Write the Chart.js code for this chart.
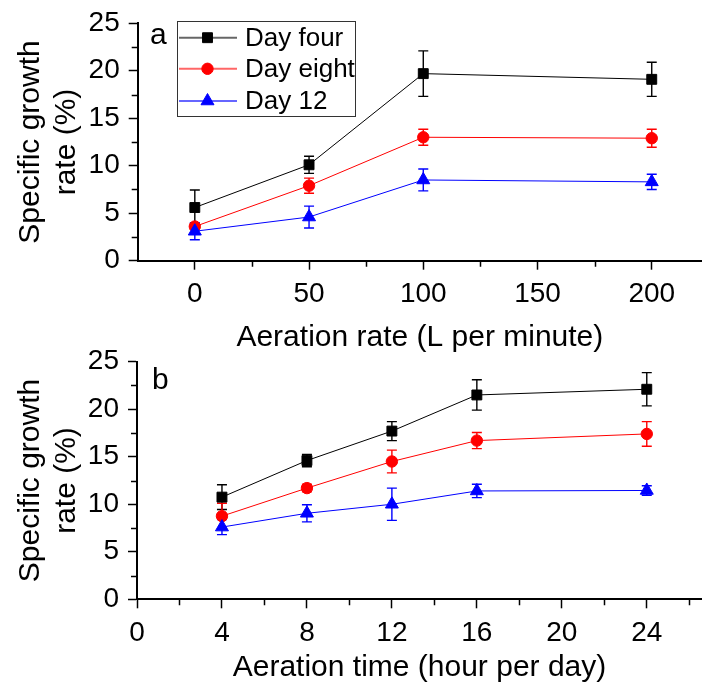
<!DOCTYPE html>
<html><head><meta charset="utf-8">
<script src="https://cdn.jsdelivr.net/npm/chart.js@4.4.1/dist/chart.umd.min.js"></script>
<style>
html,body{margin:0;padding:0;background:#fff;width:702px;height:687px;overflow:hidden;}
canvas{position:absolute;left:0;}
#ca{top:0;}
#cb{top:330px;}
</style></head><body>
<canvas id="ca" width="702" height="360"></canvas>
<canvas id="cb" width="702" height="357"></canvas>
<script>
const FONT = "'Liberation Sans', Arial, Helvetica, sans-serif";

const seriesNames = ['Day four', 'Day eight', 'Day 12'];
const seriesColors = ['#000000', '#ff0000', '#0000ff'];
const seriesMarkers = ['rect', 'circle', 'triangle'];
const seriesRadius = [7, 5.7, 7.5];

// Panel a: aeration rate
const aerationRate = [0, 50, 100, 200];
const rateDayFour = [5.6, 10.1, 19.7, 19.1];
const rateDayFourErr = [1.85, 0.9, 2.4, 1.8];
const rateDayEight = [3.6, 7.9, 13.0, 12.9];
const rateDayEightErr = [0.3, 0.8, 0.85, 0.95];
const rateDay12 = [3.1, 4.6, 8.5, 8.3];
const rateDay12Err = [0.9, 1.15, 1.15, 0.8];
const rateTicks = [0, 50, 100, 150, 200];
const rateMinorTicks = [25, 75, 125, 175];

// Panel b: aeration time
const aerationTime = [4, 8, 12, 16, 24];
const timeDayFour = [10.75, 14.6, 17.7, 21.5, 22.1];
const timeDayFourErr = [1.3, 0.65, 1.0, 1.6, 1.75];
const timeDayEight = [8.75, 11.7, 14.5, 16.7, 17.4];
const timeDayEightErr = [1.35, 0.4, 1.2, 0.85, 1.3];
const timeDay12 = [7.6, 9.05, 10.0, 11.4, 11.45];
const timeDay12Err = [0.8, 0.9, 1.7, 0.7, 0.5];
const timeTicks = [0, 4, 8, 12, 16, 20, 24];
const timeMinorTicks = [2, 6, 10, 14, 18, 22, 26];

const yTicks = [0, 5, 10, 15, 20, 25];
const yMinorTicks = [2.5, 7.5, 12.5, 17.5, 22.5];
const yTitle = ['Specific growth', 'rate (%)'];

function makeDataset(i, xs, ys, errs) {
  return {
    label: seriesNames[i],
    data: xs.map((x, k) => ({x: x, y: ys[k]})),
    errors: errs,
    borderColor: seriesColors[i],
    backgroundColor: seriesColors[i],
    borderWidth: 1,
    pointStyle: seriesMarkers[i],
    pointRadius: seriesRadius[i],
    pointBorderWidth: 1,
    pointBorderColor: seriesColors[i],
    pointBackgroundColor: seriesColors[i],
    pointHoverRadius: seriesRadius[i],
    order: 2 - i,
    tension: 0,
    fill: false,
    clip: false
  };
}

const errorBars = {
  id: 'errorBars',
  beforeDatasetsDraw(chart) {
    const ctx = chart.ctx, xs = chart.scales.x, ys = chart.scales.y;
    chart.data.datasets.forEach(d => {
      if (!d.errors) return;
      ctx.save();
      ctx.strokeStyle = d.borderColor;
      ctx.lineWidth = 1.4;
      d.data.forEach((p, k) => {
        const e = d.errors[k];
        const px = xs.getPixelForValue(p.x);
        const y1 = ys.getPixelForValue(p.y + e), y2 = ys.getPixelForValue(p.y - e);
        ctx.beginPath();
        ctx.moveTo(px, y1); ctx.lineTo(px, y2);
        ctx.moveTo(px - 5, y1); ctx.lineTo(px + 5, y1);
        ctx.moveTo(px - 5, y2); ctx.lineTo(px + 5, y2);
        ctx.stroke();
      });
      ctx.restore();
    });
  }
};

const decor = {
  id: 'decor',
  afterDraw(chart, args, opts) {
    const ctx = chart.ctx, xs = chart.scales.x, ys = chart.scales.y;
    ctx.save();
    ctx.strokeStyle = '#000';
    ctx.lineWidth = 1.5;
    // minor ticks
    ctx.beginPath();
    (opts.xMinor || []).forEach(v => {
      const px = Math.round(xs.getPixelForValue(v)) + 0.5;
      ctx.moveTo(px, ys.bottom); ctx.lineTo(px, ys.bottom + 6);
    });
    (opts.yMinor || []).forEach(v => {
      const py = Math.round(ys.getPixelForValue(v)) + 0.5;
      ctx.moveTo(xs.left, py); ctx.lineTo(xs.left - 6, py);
    });
    ctx.stroke();
    // panel letter
    ctx.fillStyle = '#000';
    ctx.font = '30px ' + FONT;
    ctx.textBaseline = 'alphabetic';
    ctx.textAlign = 'left';
    ctx.fillText(opts.letter, opts.letterX, opts.letterY);
    // legend
    if (opts.legend) {
      const L = opts.legend;
      ctx.lineWidth = 1;
      ctx.strokeStyle = '#333';
      ctx.strokeRect(L.x + 0.5, L.y + 0.5, L.w, L.h);
      ctx.font = '26px ' + FONT;
      ctx.textBaseline = 'middle';
      chart.data.datasets.forEach((d, i) => {
        const ry = L.rows[i];
        ctx.save();
        ctx.globalAlpha = 0.6;
        ctx.strokeStyle = d.borderColor;
        ctx.lineWidth = 2;
        ctx.beginPath();
        ctx.moveTo(L.x + 2, ry); ctx.lineTo(L.x + 60, ry);
        ctx.stroke();
        ctx.restore();
        ctx.fillStyle = d.backgroundColor;
        ctx.strokeStyle = d.borderColor;
        ctx.lineWidth = 1;
        Chart.helpers.drawPoint(ctx, {pointStyle: d.pointStyle, radius: d.pointRadius, rotation: 0, borderWidth: 1}, L.x + 30.5, ry);
        ctx.fillStyle = '#000';
        ctx.fillText(d.label, L.x + 68, ry + 1);
      });
    }
    ctx.restore();
  }
};

function makeChart(canvasId, xs, sets, xTicks, xMin, xMax, xTitle, plot, xTitlePad, decorOpts) {
  const H = document.getElementById(canvasId).height;
  return new Chart(document.getElementById(canvasId), {
    type: 'line',
    data: {datasets: sets},
    plugins: [errorBars, decor],
    options: {
      responsive: false,
      animation: false,
      events: [],
      layout: {autoPadding: false, padding: {left: 0, right: 0, top: plot.top, bottom: 0}},
      plugins: {legend: {display: false}, tooltip: {enabled: false}, decor: decorOpts},
      scales: {
        x: {
          type: 'linear', min: xMin, max: xMax,
          afterBuildTicks: s => { s.ticks = xTicks.map(v => ({value: v})); },
          afterFit: s => { s.height = H - plot.bottom; s.paddingLeft = 0; s.paddingRight = 0; },
          ticks: {font: {family: FONT, size: 28}, color: '#000', padding: 8, maxRotation: 0, autoSkip: false},
          grid: {display: true, drawOnChartArea: false, drawTicks: true, tickLength: 9, tickWidth: 1.5, tickColor: '#000'},
          border: {display: true, color: '#000', width: 2},
          title: {display: true, text: xTitle, font: {family: FONT, size: 30}, color: '#000', padding: {top: 0, bottom: xTitlePad}}
        },
        y: {
          min: 0, max: 25,
          afterBuildTicks: s => { s.ticks = yTicks.map(v => ({value: v})); },
          afterFit: s => { s.width = plot.left; s.paddingTop = 0; s.paddingBottom = 0; },
          ticks: {font: {family: FONT, size: 28}, color: '#000', padding: 9},
          grid: {display: true, drawOnChartArea: false, drawTicks: true, tickLength: 9, tickWidth: 1.5, tickColor: '#000'},
          border: {display: true, color: '#000', width: 2},
          title: {display: true, text: yTitle, font: {family: FONT, size: 30, lineHeight: 1.2}, color: '#000', padding: {top: 13, bottom: 0}}
        }
      }
    }
  });
}

makeChart('ca', aerationRate, [
  makeDataset(0, aerationRate, rateDayFour, rateDayFourErr),
  makeDataset(1, aerationRate, rateDayEight, rateDayEightErr),
  makeDataset(2, aerationRate, rateDay12, rateDay12Err)
], rateTicks, -25, 222, 'Aeration rate (L per minute)', {top: 23.3, bottom: 260.7, left: 137.7}, 4,
  {xMinor: rateMinorTicks, yMinor: yMinorTicks, letter: 'a', letterX: 150, letterY: 43.5,
   legend: {x: 177, y: 21, w: 178, h: 95, rows: [37.7, 68.8, 101]}});

makeChart('cb', aerationTime, [
  makeDataset(0, aerationTime, timeDayFour, timeDayFourErr),
  makeDataset(1, aerationTime, timeDayEight, timeDayEightErr),
  makeDataset(2, aerationTime, timeDay12, timeDay12Err)
], timeTicks, 0, 26.6, 'Aeration time (hour per day)', {top: 31.7, bottom: 269.3, left: 137}, 1.5,
  {xMinor: timeMinorTicks, yMinor: yMinorTicks, letter: 'b', letterX: 152, letterY: 58.5});
</script>
</body></html>
